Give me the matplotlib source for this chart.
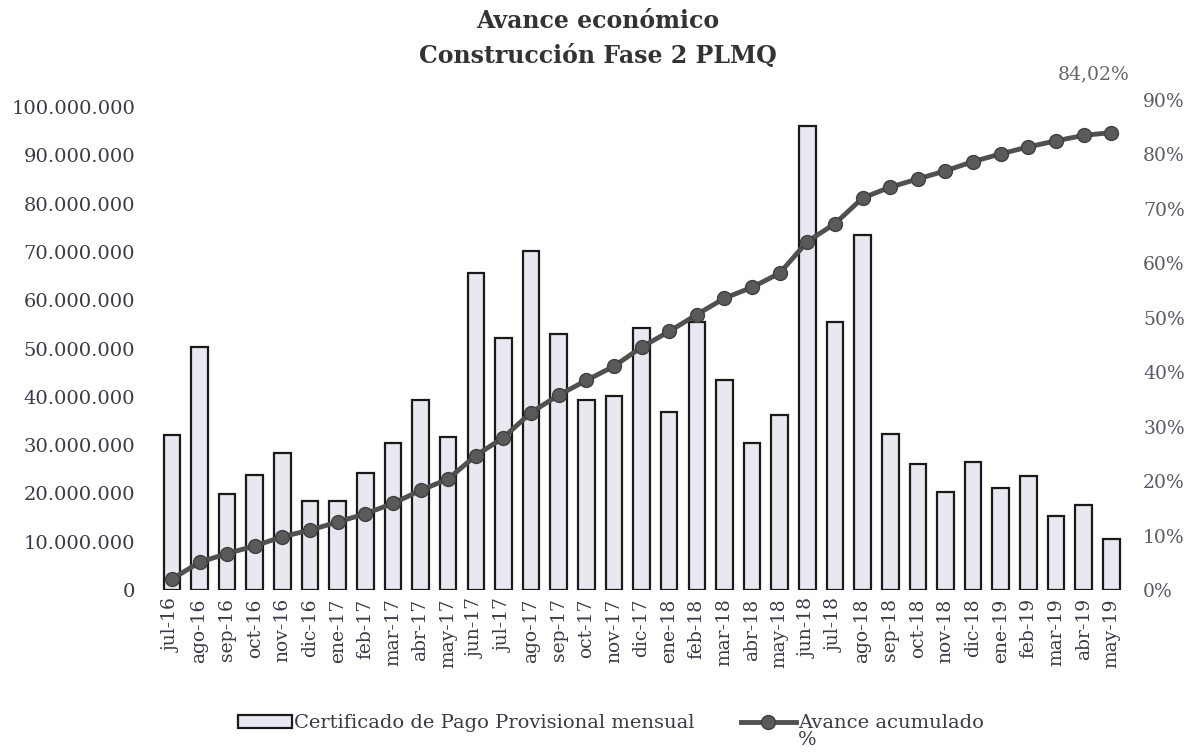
import matplotlib.pyplot as plt
from matplotlib.ticker import FuncFormatter, MultipleLocator

plt.rcParams["font.family"] = "DejaVu Serif"

meses = ["jul-16", "ago-16", "sep-16", "oct-16", "nov-16", "dic-16",
         "ene-17", "feb-17", "mar-17", "abr-17", "may-17", "jun-17",
         "jul-17", "ago-17", "sep-17", "oct-17", "nov-17", "dic-17",
         "ene-18", "feb-18", "mar-18", "abr-18", "may-18", "jun-18",
         "jul-18", "ago-18", "sep-18", "oct-18", "nov-18", "dic-18",
         "ene-19", "feb-19", "mar-19", "abr-19", "may-19"]

# certificado de pago mensual (pesos)
certificado = [32.1e6, 50.4e6, 19.9e6, 23.8e6, 28.4e6, 18.5e6,
               18.5e6, 24.2e6, 30.4e6, 39.3e6, 31.7e6, 65.7e6,
               52.1e6, 70.2e6, 53.0e6, 39.3e6, 40.2e6, 54.2e6,
               36.8e6, 55.4e6, 43.5e6, 30.4e6, 36.2e6, 96.0e6,
               55.5e6, 73.5e6, 32.3e6, 26.0e6, 20.3e6, 26.6e6,
               21.1e6, 23.7e6, 15.3e6, 17.7e6, 10.5e6]

# avance acumulado (%)
avance = [2.0, 5.1, 6.7, 8.1, 9.8, 11.0,
          12.5, 14.0, 15.9, 18.3, 20.4, 24.7,
          28.0, 32.6, 35.8, 38.5, 41.1, 44.6,
          47.5, 50.6, 53.6, 55.6, 58.2, 64.0,
          67.3, 72.0, 74.0, 75.5, 77.0, 78.7,
          80.1, 81.4, 82.5, 83.5, 84.02]

gris_texto = "#3a3a48"

fig = plt.figure(figsize=(12.02, 7.52), dpi=100)
ax = fig.add_axes([0.1315, 0.2154, 0.8045, 0.6516])
ax2 = ax.twinx()

x = range(len(meses))
barras = ax.bar(x, certificado, width=0.6, color="#e9e7ef",
                edgecolor="#1a1a1a", linewidth=1.6,
                label="Certificado de Pago Provisional mensual")
linea, = ax2.plot(x, avance, color="#505050", linewidth=3.5, marker="o",
                  markersize=10, markerfacecolor="#5a5a5a",
                  markeredgecolor="#404040", label="Avance acumulado")

ax.set_xlim(-0.5, len(meses) - 0.5)
ax.set_ylim(0, 101.45e6)
ax2.set_ylim(0, 90)

ax.yaxis.set_major_locator(MultipleLocator(10e6))
ax.yaxis.set_major_formatter(FuncFormatter(
    lambda v, p: f"{v:,.0f}".replace(",", ".")))
ax2.yaxis.set_major_locator(MultipleLocator(10))
ax2.yaxis.set_major_formatter(FuncFormatter(lambda v, p: f"{v:.0f}%"))

ax.set_xticks(list(x))
ax.set_xticklabels(meses, rotation=90)
ax.tick_params(axis="x", length=0, labelsize=13.5, labelcolor=gris_texto,
               pad=6)
ax.tick_params(axis="y", length=0, labelsize=14, labelcolor=gris_texto,
               pad=16.5)
ax2.tick_params(axis="y", length=0, labelsize=13.5, labelcolor="#5a5a68",
                pad=13)

for a in (ax, ax2):
    for s in a.spines.values():
        s.set_visible(False)

ax2.annotate("84,02%", (len(meses) - 1, avance[-1]), xytext=(-13, 38),
             textcoords="offset points", ha="center", fontsize=13.5,
             color="#666666")

fig.text(0.497, 0.949, "Avance económico\nConstrucción Fase 2 PLMQ",
         ha="center", va="center", fontsize=17, fontweight="bold",
         color="#333333", linespacing=1.55)

fig.legend(handles=[barras, linea], loc="center",
           bbox_to_anchor=(0.508, 0.038), ncol=2, frameon=False,
           fontsize=14, handlelength=2.8, columnspacing=2.4,
           handletextpad=0.1, labelcolor=gris_texto)
fig.text(0.664, 0.004, "%", fontsize=14, color=gris_texto, va="bottom")

fig.savefig("out.png", dpi=100)
